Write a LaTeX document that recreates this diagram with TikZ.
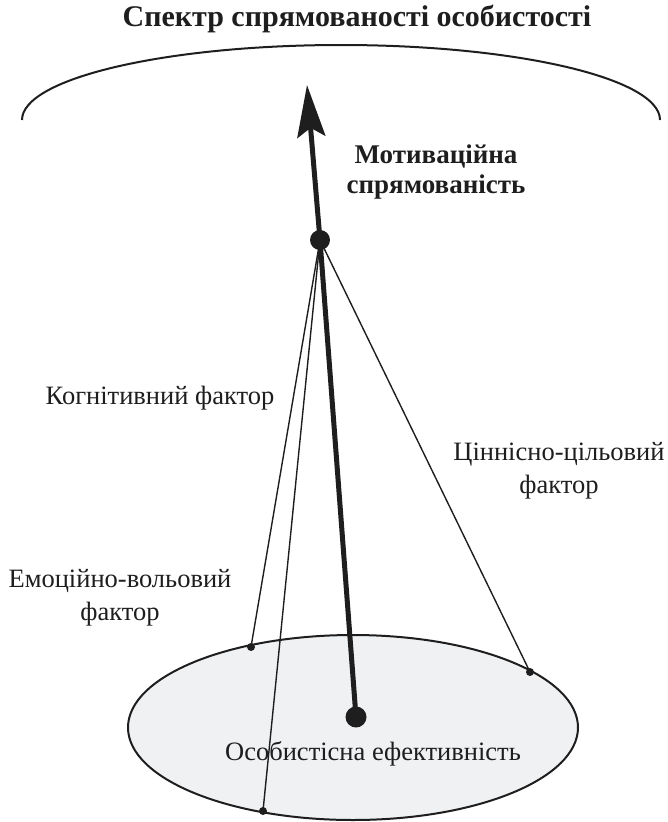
\documentclass[tikz,border=0pt]{standalone}
\usepackage{fontspec}
\setmainfont{Liberation Serif}
\usetikzlibrary{arrows.meta}
\definecolor{disc}{RGB}{240,241,243}
\definecolor{ink}{RGB}{30,30,30}

\begin{document}
\begin{tikzpicture}[
    x=1pt, y=-1pt,
    dot/.style={circle, fill=ink, inner sep=0pt, minimum size=8pt},
    bigdot/.style={dot, minimum size=21pt},
    factor/.style={line width=1.4pt, draw=ink},
    spine/.style={line width=5pt, draw=ink},
    label/.style={font=\fontsize{26.5}{33}\selectfont, text=ink, align=center,
        inner sep=0pt},
    heading/.style={label, font=\fontsize{27}{30}\selectfont\bfseries},
]
    \useasboundingbox (0,0) rectangle (668,822);

    %% the spectrum, an arc over the top
    \node[heading, font=\fontsize{30}{30}\selectfont\bfseries] (title)
        at (357,19) {Спектр спрямованості особистості};
    \draw[line width=2pt, draw=ink] (22,120) arc[start angle=180, end angle=360,
        x radius=319, y radius=75];

    %% the disc of personal effectiveness
    \filldraw[fill=disc, draw=ink, line width=2pt] (353,727.5) ellipse[x radius=225,
        y radius=92.5];
    \node[label] (eff) at (373,754) {Особистісна ефективність};

    %% the points
    \node[bigdot, minimum size=20pt] (apex) at (320,240) {};
    \node[bigdot] (core) at (356,717) {};
    \node[dot] (cog) at (251,647) {};
    \node[dot] (val) at (530,672) {};
    \node[dot] (emo) at (263,811) {};
    \coordinate (tip) at (307,85);

    %% the factors, thin lines from the apex down to the disc
    \foreach \p in {cog, val, emo}
        \draw[factor] (apex.center) -- (\p.center);
    \draw[spine] (apex.center) -- (core.center);
    \draw[spine, -{Stealth[length=52pt, width=28pt, inset=9pt]}]
        (apex.center) -- (tip);

    %% labels
    \node[heading] (motiv) at (436,172) {Мотиваційна\\спрямованість};
    \node[label] (cogl) at (160,398) {Когнітивний фактор};
    \node[label] (vall) at (559,471) {Ціннісно-цільовий\\фактор};
    \node[label] (emol) at (120,598) {Емоційно-вольовий\\фактор};
\end{tikzpicture}
\end{document}
